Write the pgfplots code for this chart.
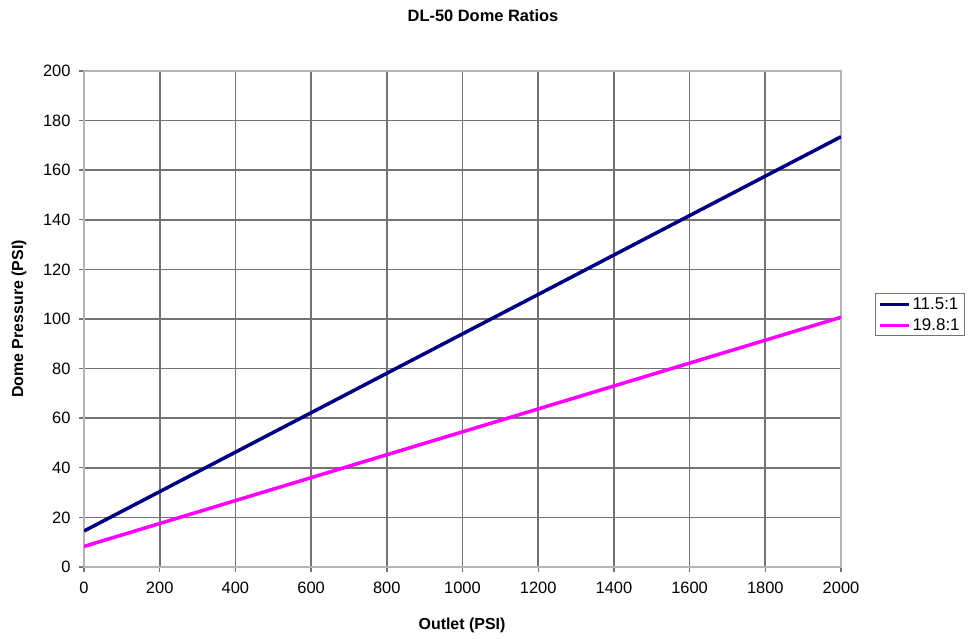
\documentclass[border=0pt]{standalone}
\usepackage{fontspec}
\setmainfont{Liberation Sans}
\usepackage{pgfplots}
\pgfplotsset{compat=1.18}

\definecolor{navyline}{RGB}{0,0,128}
\definecolor{magline}{RGB}{255,0,255}
\definecolor{gridgray}{RGB}{115,115,115}
\definecolor{framegray}{RGB}{180,180,180}

\begin{document}
\begin{tikzpicture}
\path[use as bounding box] (0,0) rectangle (968bp,639bp);
\begin{axis}[
    at={(84bp,72bp)}, anchor=south west,
    scale only axis,
    width=757bp, height=496bp,
    xmin=0, xmax=2000, ymin=0, ymax=200,
    xtick={0,200,...,2000},
    ytick={0,20,...,200},
    grid=major,
    major grid style={gridgray, line width=1.7bp},
    axis line style={framegray, line width=1.5bp},
    tick style={gridgray, line width=1.4bp},
    tick align=outside,
    major tick length=5bp,
    xtick pos=bottom, ytick pos=left,
    /pgf/number format/assume math mode=true,
    /pgf/number format/1000 sep={},
    ticklabel style={font=\fontsize{16.5}{18}\selectfont},
    xticklabel style={yshift=-7bp},
    yticklabel style={xshift=-5bp},
    legend style={at={(1.045,0.5524)}, anchor=north west,
        draw=gridgray, line width=1bp,
        font=\fontsize{17}{19}\selectfont,
        inner xsep=3bp, inner ysep=2bp, row sep=4bp},
    legend cell align=left,
    legend image code/.code={\draw[#1, line width=3bp] (0bp,0bp) -- (29bp,0bp);},
]
\addplot[navyline, line width=3.5bp] coordinates {(0,14.5) (2000,173.5)};
\addlegendentry{11.5:1}
\addplot[magline, line width=3.5bp] coordinates {(0,8.3) (2000,100.7)};
\addlegendentry{19.8:1}
\end{axis}
\node[font=\bfseries\fontsize{16.5}{18}\selectfont] at (483bp,623bp) {DL-50 Dome Ratios};
\node[font=\bfseries\fontsize{16}{18}\selectfont] at (462bp,14bp) {Outlet (PSI)};
\node[font=\bfseries\fontsize{16}{18}\selectfont, rotate=90] at (19bp,320bp) {Dome Pressure (PSI)};
\end{tikzpicture}
\end{document}
